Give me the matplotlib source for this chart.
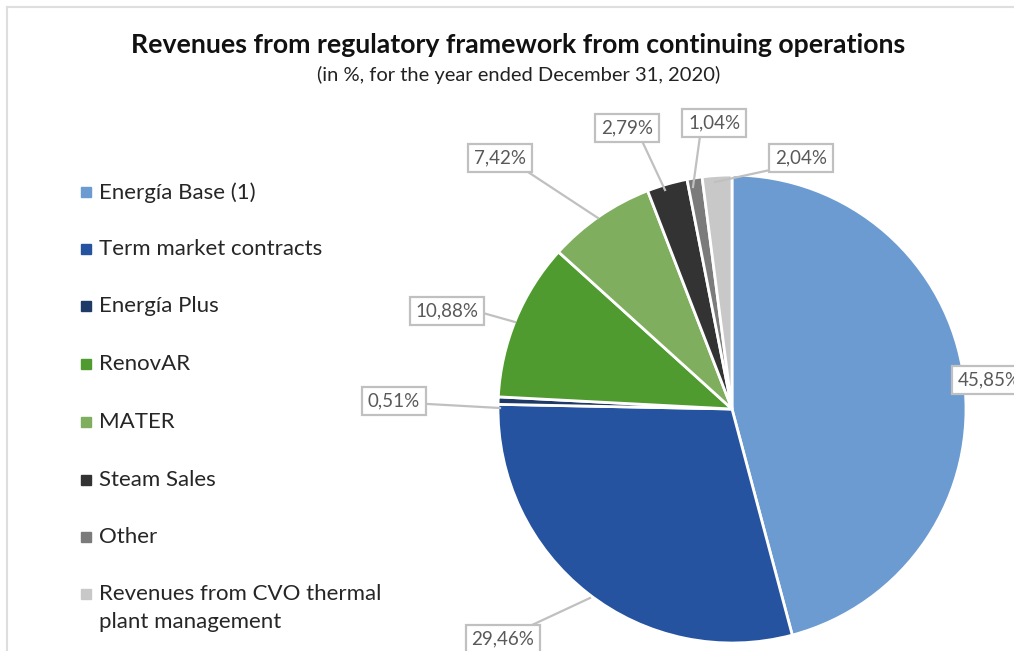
import matplotlib
matplotlib.use("Agg")
import matplotlib.pyplot as plt
from matplotlib.lines import Line2D

plt.rcParams['font.family'] = ['Lato', 'DejaVu Sans']

categories = ['Energía Base (1)', 'Term market contracts', 'Energía Plus', 'RenovAR',
              'MATER', 'Steam Sales', 'Other',
              'Revenues from CVO thermal\nplant management']
values = [45.85, 29.46, 0.51, 10.88, 7.42, 2.79, 1.04, 2.04]
labels = ['45,85%', '29,46%', '0,51%', '10,88%', '7,42%', '2,79%', '1,04%', '2,04%']
colors = ['#6b9bd1', '#2553a0', '#1f3a66', '#4f9b2f', '#7fae5f', '#333333', '#7b7b7b', '#c8c8c8']

# label box centres and leader ends, in pixels of the 1014x651 picture
box_px = [(989, 380), (503, 639), (394, 401), (447, 311), (500, 158), (627, 128), (714, 123), (801, 158)]
lead_px = [None, ((590, 598), (532, 625)), ((500, 408), (428, 404)), ((515, 322), (483, 313)),
           ((598, 218), (528, 172)), ((665, 190), (643, 143)), ((693, 187), (700, 136)),
           ((715, 182), (770, 170))]
legend_y_px = [192, 249, 306, 364, 422, 480, 537, 594]

W, H = 1014, 651
cx, cy, R = 732, 409, 234


def to_data(p):
    return ((p[0] - cx) / R, (cy - p[1]) / R)


fig = plt.figure(figsize=(W / 100, H / 100), dpi=100)
ax = fig.add_axes([0, 0, 1, 1])

wedges, _ = ax.pie(values, colors=colors, startangle=90, counterclock=False,
                   radius=1.0, wedgeprops=dict(edgecolor='white', linewidth=2))
ax.set_aspect('auto')
ax.set_xlim(-cx / R, (W - cx) / R)
ax.set_ylim((cy - H) / R, cy / R)
ax.axis('off')

for lab, b, ld in zip(labels, box_px, lead_px):
    if ld is not None:
        p0, p1 = to_data(ld[0]), to_data(ld[1])
        ax.plot([p0[0], p1[0]], [p0[1], p1[1]], color='#c0c0c0', lw=1.6, zorder=3)
    x, y = to_data(b)
    ax.text(x, y, lab, ha='center', va='center', fontsize=13.5, color='#595959', zorder=4,
            bbox=dict(boxstyle='square,pad=0.3', fc='white', ec='#c0c0c0', lw=1.6))

fig.text(0.511, 1 - 45 / H, 'Revenues from regulatory framework from continuing operations',
         ha='center', va='center', fontsize=19.2, fontweight='bold', color='#111111')
fig.text(0.511, 1 - 75 / H, '(in %, for the year ended December 31, 2020)',
         ha='center', va='center', fontsize=14.5, color='#222222')

# legend drawn by hand so the square sits on the first line of a wrapped entry
for cat, col, ly in zip(categories, colors, legend_y_px):
    fig.add_artist(Line2D([86 / W], [1 - ly / H], marker='s', markersize=7.5, color=col,
                          linestyle='none', transform=fig.transFigure))
    fig.text(99 / W, 1 - (ly - 10) / H, cat, ha='left', va='top', fontsize=16,
             color='#262626', linespacing=1.5)

# faint frame at top and left
fig.add_artist(Line2D([7 / W, 1], [1 - 7 / H, 1 - 7 / H], transform=fig.transFigure,
                      color='#dedede', lw=1.5))
fig.add_artist(Line2D([7 / W, 7 / W], [0, 1 - 7 / H], transform=fig.transFigure,
                      color='#dedede', lw=1.5))

fig.savefig('out.png', dpi=100, facecolor='white')
